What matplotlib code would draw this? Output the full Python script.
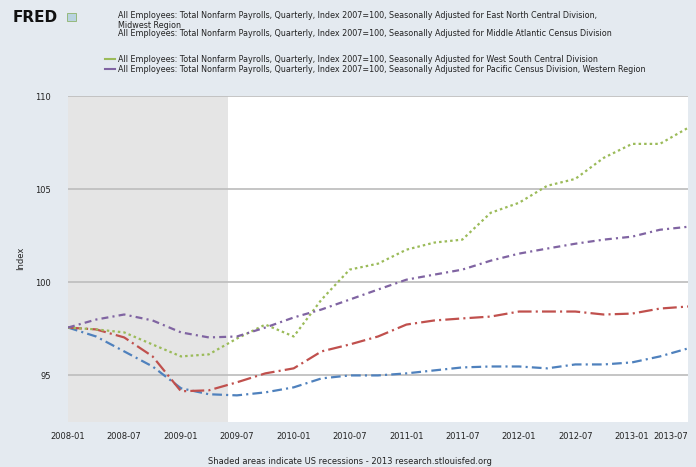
import matplotlib
matplotlib.use("Agg")
import matplotlib.pyplot as plt
import matplotlib.dates as mdates
import pandas as pd
from matplotlib.patches import Rectangle

# Dados trimestrais (indice)
datas = pd.date_range("2008-01-01", periods=23, freq="QS")

serie_azul = [97.57, 97.09, 96.29, 95.48, 94.31, 93.99, 93.93, 94.09, 94.36, 94.84, 95.00, 95.00,
              95.11, 95.27, 95.43, 95.48, 95.48, 95.38, 95.59, 95.59, 95.70, 96.02, 96.45]
serie_vermelha = [97.57, 97.47, 97.04, 96.02, 94.15, 94.20, 94.63, 95.11, 95.38, 96.29, 96.66, 97.09,
                  97.73, 97.95, 98.06, 98.16, 98.43, 98.43, 98.43, 98.27, 98.32, 98.59, 98.70]
serie_verde = [97.57, 97.47, 97.31, 96.66, 96.02, 96.13, 96.98, 97.73, 97.09, 99.07, 100.68, 101.00,
               101.75, 102.13, 102.29, 103.73, 104.27, 105.18, 105.55, 106.68, 107.43, 107.43, 108.29]
serie_roxa = [97.57, 98.00, 98.27, 97.95, 97.31, 97.04, 97.09, 97.57, 98.11, 98.54, 99.07, 99.61,
              100.14, 100.41, 100.68, 101.16, 101.54, 101.81, 102.07, 102.29, 102.45, 102.82, 102.98]

legendas = [
    "All Employees: Total Nonfarm Payrolls, Quarterly, Index 2007=100, Seasonally Adjusted for East North Central Division,\nMidwest Region",
    "All Employees: Total Nonfarm Payrolls, Quarterly, Index 2007=100, Seasonally Adjusted for Middle Atlantic Census Division",
    "All Employees: Total Nonfarm Payrolls, Quarterly, Index 2007=100, Seasonally Adjusted for West South Central Division",
    "All Employees: Total Nonfarm Payrolls, Quarterly, Index 2007=100, Seasonally Adjusted for Pacific Census Division, Western Region",
]

recessao_inicio = pd.Timestamp("2007-12-01")
recessao_fim = pd.Timestamp("2009-06-01")

y_ticks = [95, 100, 105, 110]
x_ticks = pd.date_range("2008-01-01", "2013-07-01", freq="6MS")

plt.rcParams["lines.scale_dashes"] = False

fundo = "#E4EAF0"
fig = plt.figure(figsize=(6.96, 4.67), dpi=100, facecolor=fundo)
ax = fig.add_axes([68 / 696, 45 / 467, 620 / 696, 326 / 467])
ax.set_facecolor("white")

# Recessao sombreada
ax.axvspan(recessao_inicio, recessao_fim, color="#E5E5E5", lw=0, zorder=0)

estilos = [
    (serie_azul, "#4F81BD", (0, (7, 3, 1.5, 3))),
    (serie_vermelha, "#C0504D", (0, (10, 3, 1.5, 3))),
    (serie_verde, "#9BBB59", (0, (1.8, 2.2))),
    (serie_roxa, "#8064A2", (0, (5, 3, 1.5, 3))),
]
for valores, cor, traco in estilos:
    ax.plot(datas, valores, color=cor, lw=1.6, linestyle=traco, zorder=3)

ax.set_xlim(datas[0], datas[-1])
ax.set_ylim(92.5, 110)
ax.set_yticks(y_ticks)
ax.set_yticklabels([str(v) for v in y_ticks])
ax.set_xticks(x_ticks)
ax.xaxis.set_major_formatter(mdates.DateFormatter("%Y-%m"))

ax.grid(axis="y", color="#C0C0C0", lw=1.3, zorder=1)
for lado in ax.spines.values():
    lado.set_visible(False)
ax.tick_params(axis="both", length=0, labelsize=6, colors="#222222")
ax.tick_params(axis="y", pad=12)
ax.tick_params(axis="x", pad=7)
fig.canvas.draw()
ax.get_xticklabels()[-1].set_horizontalalignment("right")

fig.text(21 / 696, 1 - 258 / 467, "Index", rotation=90, fontsize=6, ha="center", va="center", color="#222222")

# Cabecalho estilo FRED
fig.text(13 / 696, 1 - 17 / 467, "FRED", fontsize=11, fontweight="bold", ha="left", va="center",
         color="#111111")
fig.patches.append(Rectangle((67 / 696, 1 - 21 / 467), 9 / 696, 8 / 467, transform=fig.transFigure,
                             facecolor="#B9D3E0", edgecolor="#8DB36B", lw=0.6))

y_leg = [15, 34, 59, 69]
for i, (txt, yy) in enumerate(zip(legendas, y_leg)):
    for j, linha in enumerate(txt.split("\n")):
        fig.text(118 / 696, 1 - (yy + 10 * j) / 467, linha, fontsize=5.8, ha="left", va="center",
                 color="#222222")
    if i >= 2:
        cor = estilos[i][1]
        fig.add_artist(plt.Line2D([105 / 696, 115 / 696], [1 - yy / 467, 1 - yy / 467],
                                  color=cor, lw=1.5, transform=fig.transFigure))

fig.text(350 / 696, 1 - 462 / 467, "Shaded areas indicate US recessions - 2013 research.stlouisfed.org",
         fontsize=6, ha="center", va="center", color="#222222")

fig.savefig("out.png", dpi=100, facecolor=fundo)
plt.close(fig)
